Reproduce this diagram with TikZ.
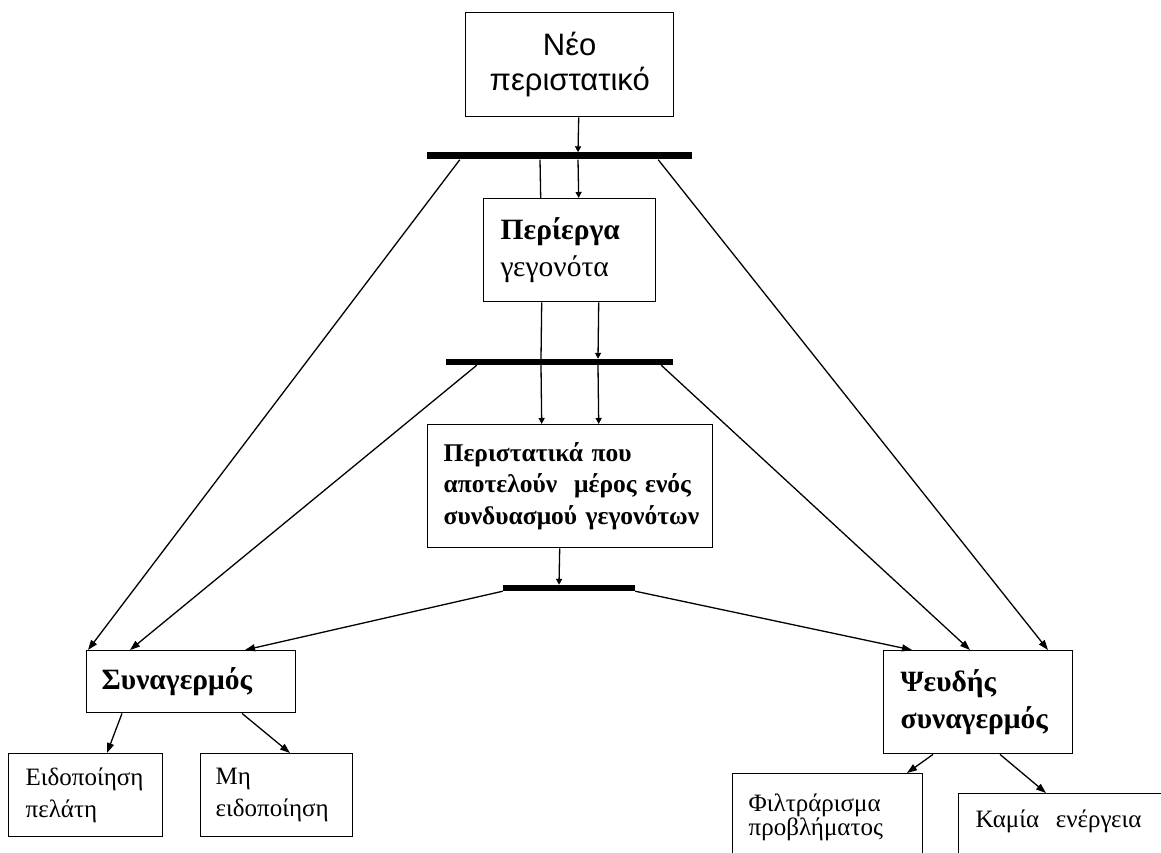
\documentclass[tikz,border=0pt]{standalone}
\usepackage{fontspec}
\setmainfont{Liberation Serif}
\newfontfamily\grsans{Liberation Sans}
\usetikzlibrary{arrows.meta}
\begin{document}
\begin{tikzpicture}[x=1pt,y=-1pt,
  box/.style={draw, line width=1.4pt, anchor=north west, inner ysep=0pt, align=left},
  bar/.style={fill=black, inner sep=0pt},
  link/.style={line width=1.3pt},
  arr/.style={link, -{Triangle[length=10pt,width=7pt]}},
  tick/.style={link, -{Triangle[length=6pt,width=6pt]}},
  bigbold/.style={font=\fontsize{29.5}{37}\selectfont\bfseries},
  midbold/.style={font=\fontsize{25.5}{31.5}\selectfont\bfseries},
  small/.style={font=\fontsize{25}{32}\selectfont}
]
\clip (0,0) rectangle (1161,853);
\fill[white] (0,0) rectangle (1161,853);

% boxes
\node[box, inner xsep=0pt, minimum width=208pt, minimum height=104pt, align=center,
      font=\grsans\fontsize{31}{35}\selectfont] (new) at (465,12) {Νέο\\περιστατικό};
\node[box, bigbold, inner xsep=17pt, text width=138pt, minimum height=103pt] (per) at (483,198)
      {Περίεργα\\\mdseries γεγονότα};
\node[box, midbold, inner xsep=16pt, text width=253pt, minimum height=123pt] (comb) at (427,424)
      {Περιστατικά~που\\αποτελούν~~μέρος~ενός\\συνδυασμού~γεγονότων};
\node[box, bigbold, inner xsep=15pt, text width=179pt, minimum height=62pt] (alarm) at (86,650)
      {Συναγερμός};
\node[box, bigbold, inner xsep=17pt, text width=155pt, minimum height=103pt] (false) at (883,650)
      {Ψευδής\\συναγερμός};
\node[box, small, inner xsep=17pt, text width=120pt, minimum height=83pt] (notify) at (8,753)
      {Ειδοποίηση\\πελάτη};
\node[box, small, inner xsep=15pt, text width=122pt, minimum height=83pt] (nonotify) at (200,753)
      {Μη\\ειδοποίηση};
\node[box, font=\fontsize{25}{24}\selectfont, inner xsep=16pt, text width=158pt, minimum height=87pt] (filter) at (732,773)
      {Φιλτράρισμα\\προβλήματος};
\node[box, font=\fontsize{25}{24}\selectfont, inner xsep=17pt, text width=190pt, text height=34pt, text depth=40pt] (none) at (958,793)
      {Καμία~~ενέργεια};

% bars
\node[bar, minimum width=265pt, minimum height=7pt] (topbar) at (559.5,156) {};
\node[bar, minimum width=227pt, minimum height=6pt] (midbar) at (559.5,362) {};
\node[bar, minimum width=132pt, minimum height=6pt] (botbar) at (569,588) {};

% vertical connectors
\draw[tick] ([xshift=9pt]new.south) -- ([xshift=18.5pt]topbar.north);
\draw[tick] ([xshift=18.5pt]topbar.south) -- ([xshift=9pt]per.north);
\draw[link] ([xshift=-19.5pt]topbar.south) -- ([xshift=-29pt]per.north);
\draw[link] ([xshift=-28pt]per.south) -- ([xshift=-18.5pt]midbar.north);
\draw[tick] ([xshift=29pt]per.south) -- ([xshift=38.5pt]midbar.north);
\draw[tick] ([xshift=-18.5pt]midbar.south) -- ([xshift=-28.5pt]comb.north);
\draw[tick] ([xshift=38.5pt]midbar.south) -- ([xshift=28.5pt]comb.north);
\draw[tick] ([xshift=-10.5pt]comb.south) -- ([xshift=-10pt]botbar.north);

% diagonal connectors
\draw[arr] ([xshift=33pt]topbar.south west) -- ([xshift=2pt]alarm.north west);
\draw[arr] ([xshift=31pt]midbar.south west) -- ([xshift=44pt]alarm.north west);
\draw[arr] (botbar.south west) -- ([xshift=159pt]alarm.north west);
\draw[arr] (botbar.south east) -- ([xshift=29pt]false.north west);
\draw[arr] ([xshift=-12pt]midbar.south east) -- ([xshift=87pt]false.north west);
\draw[arr] ([xshift=-34pt]topbar.south east) -- ([xshift=165pt]false.north west);
\draw[arr] ([xshift=36pt]alarm.south west) -- ([xshift=99pt]notify.north west);
\draw[arr] ([xshift=156pt]alarm.south west) -- ([xshift=90pt]nonotify.north west);
\draw[arr] ([xshift=50pt]false.south west) -- ([xshift=175pt]filter.north west);
\draw[arr] ([xshift=117pt]false.south west) -- ([xshift=88pt]none.north west);
\end{tikzpicture}
\end{document}
